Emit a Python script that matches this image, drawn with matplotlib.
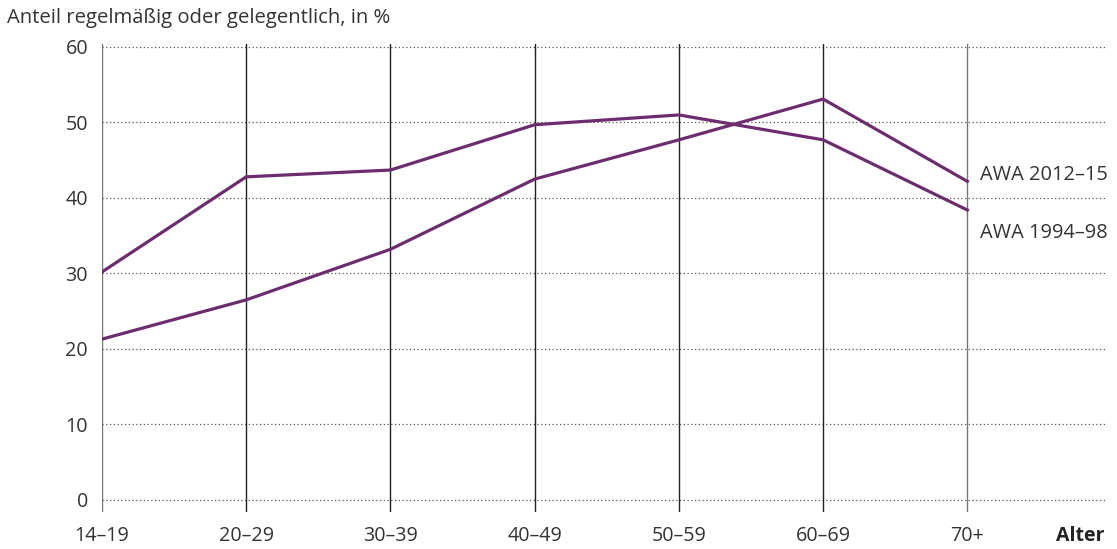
import matplotlib
matplotlib.use("Agg")
import matplotlib.pyplot as plt
import numpy as np

plt.rcParams['font.family'] = ['Open Sans', 'DejaVu Sans']

# data
alter = ['14–19', '20–29', '30–39', '40–49', '50–59', '60–69', '70+']
awa_1994_98 = [30.2, 42.8, 43.7, 49.7, 51.0, 47.7, 38.4]
awa_2012_15 = [21.3, 26.5, 33.2, 42.5, 47.7, 53.1, 42.2]
yticks = [0, 10, 20, 30, 40, 50, 60]

purple = '#6c2d6f'
txt = '#333333'

fig = plt.figure(figsize=(11.17, 5.49), dpi=100)
ax = fig.add_axes([0.0913, 0.0674, 0.8987, 0.8525])

x = np.arange(len(alter))

# vertical category lines
for i in x:
    col = '#777777' if i in (0, len(alter) - 1) else '#222222'
    ax.axvline(i, color=col, lw=1.0, zorder=1)

# dotted horizontal grid
for v in yticks:
    ax.axhline(v, color='#555555', lw=0.9, ls=(0, (1, 2)), zorder=0)

ax.plot(x, awa_2012_15, color=purple, lw=2.3, zorder=3, solid_joinstyle='miter')
ax.plot(x, awa_1994_98, color=purple, lw=2.3, zorder=3, solid_joinstyle='miter')

ax.text(x[-1] + 0.09, awa_2012_15[-1] + 0.8, 'AWA 2012–15', fontsize=14.4,
        color=txt, va='center', ha='left')
ax.text(x[-1] + 0.09, awa_1994_98[-1] - 3.0, 'AWA 1994–98', fontsize=14.4,
        color=txt, va='center', ha='left')

ax.set_xlim(0, 6.96)
ax.set_ylim(-1.6, 60.4)
ax.set_xticks(x)
ax.set_xticklabels(alter)
ax.set_yticks(yticks)
ax.tick_params(axis='both', length=0, labelsize=14.2, colors=txt)
ax.tick_params(axis='x', pad=10)
ax.tick_params(axis='y', pad=10)
for s in ax.spines.values():
    s.set_visible(False)

fig.text(0.945, 0.024, 'Alter', fontsize=14, fontweight='bold', color='#222222',
         ha='left', va='center')
fig.text(0.006, 0.967, 'Anteil regelmäßig oder gelegentlich, in %', fontsize=14.6,
         color=txt, ha='left', va='center')

fig.savefig('out.png', dpi=100)
